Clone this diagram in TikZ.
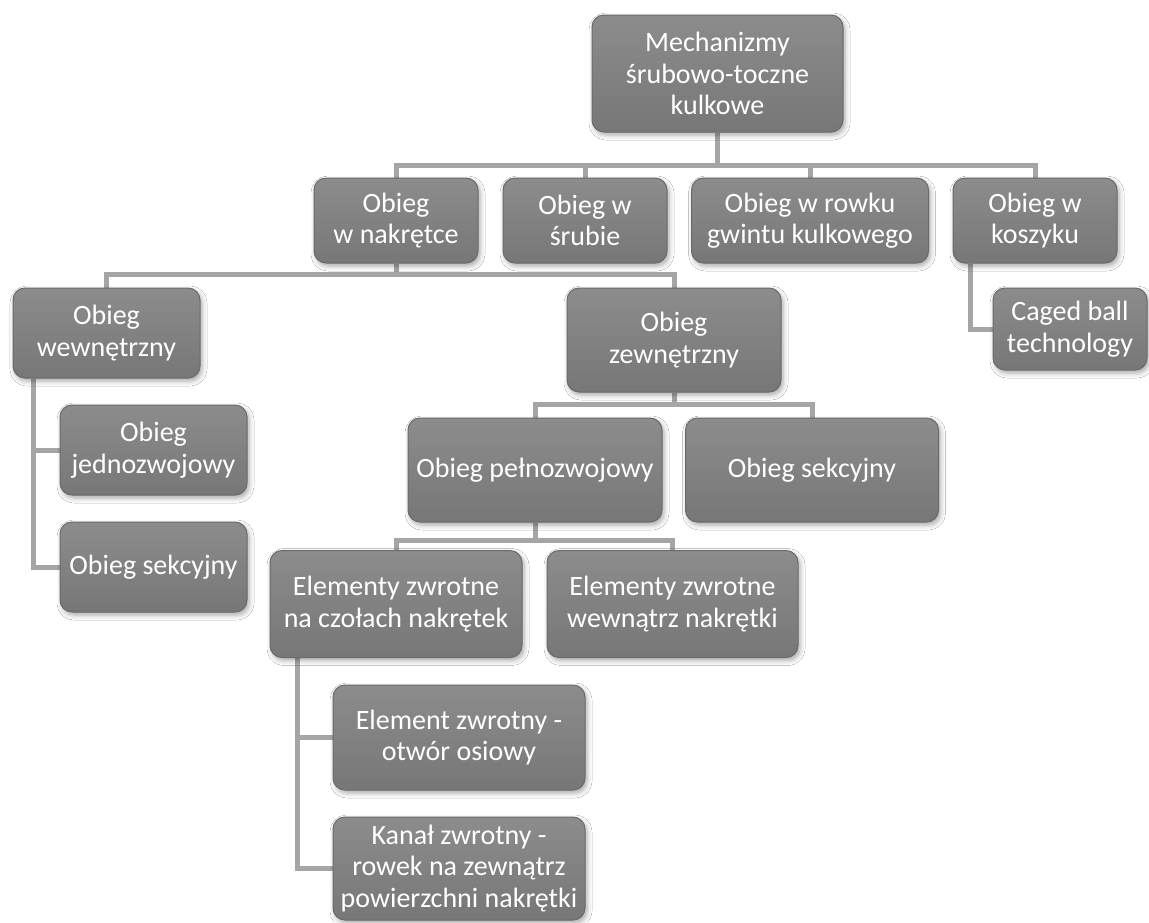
\documentclass[tikz,border=0pt]{standalone}
\usepackage{fontspec}
\setmainfont{Carlito}
\usetikzlibrary{shadows.blur,backgrounds}
\definecolor{boxtop}{HTML}{8C8C8C}
\definecolor{boxbot}{HTML}{777777}
\definecolor{boxline}{HTML}{6A6A6A}
\definecolor{connc}{HTML}{A5A5A5}
\tikzset{
  box/.style={draw=boxline, line width=1pt, rounded corners=12pt,
    top color=boxtop, bottom color=boxbot, text=white, align=center,
    inner sep=0pt, font=\fontsize{28}{31.5}\selectfont,
    blur shadow={shadow xshift=2pt, shadow yshift=-3pt, shadow blur radius=5pt, shadow opacity=35}},
  conn/.style={draw=connc, line width=5pt}
}
\begin{document}
\begin{tikzpicture}[x=1pt,y=1pt]
\useasboundingbox (0,0) rectangle (1149,-922);
\node[box, minimum width=251pt, minimum height=117pt] (root) at (717.5,-73.5) {Mechanizmy\\śrubowo-toczne\\kulkowe};
\node[box, minimum width=164pt, minimum height=85pt] (nak) at (396,-220.5) {Obieg\\w nakrętce};
\node[box, minimum width=164pt, minimum height=85pt] (sru) at (585,-220.5) {Obieg w\\śrubie};
\node[box, minimum width=237pt, minimum height=85pt] (row) at (810,-220.5) {Obieg w rowku\\gwintu kulkowego};
\node[box, minimum width=164pt, minimum height=85pt] (kos) at (1035,-220.5) {Obieg w\\koszyku};
\node[box, minimum width=187pt, minimum height=90pt] (wew) at (106.5,-333) {Obieg\\wewnętrzny};
\node[box, minimum width=214pt, minimum height=104pt] (zew) at (674,-340) {Obieg\\zewnętrzny};
\node[box, minimum width=154pt, minimum height=82pt] (cag) at (1070,-329) {Caged ball\\technology};
\node[box, minimum width=187pt, minimum height=90pt] (jed) at (153.5,-450) {Obieg\\jednozwojowy};
\node[box, minimum width=187pt, minimum height=90pt] (sekL) at (153.5,-567) {Obieg sekcyjny};
\node[box, minimum width=254pt, minimum height=104pt] (pel) at (535,-470) {Obieg pełnozwojowy};
\node[box, minimum width=253pt, minimum height=104pt] (sekR) at (812,-470) {Obieg sekcyjny};
\node[box, minimum width=252pt, minimum height=107pt] (ecz) at (396,-604) {Elementy zwrotne\\na czołach nakrętek};
\node[box, minimum width=251pt, minimum height=107pt] (ewn) at (672.5,-604) {Elementy zwrotne\\wewnątrz nakrętki};
\node[box, minimum width=252pt, minimum height=105pt] (eot) at (459,-737.5) {Element zwrotny -\\otwór osiowy};
\node[box, minimum width=252pt, minimum height=103pt] (kan) at (459,-868.5) {Kanał zwrotny -\\rowek na zewnątrz\\powierzchni nakrętki};
\coordinate (b1) at (0,-165);
\coordinate (b2) at (0,-274);
\coordinate (b3) at (0,-404);
\coordinate (b4) at (0,-540);
\begin{scope}[on background layer]
\fill[white] (0,0) rectangle (1149,-922);
\draw[conn] (root.south) -- (root.south |- b1);
\draw[conn] (nak.north) -- (nak.north |- b1) -- (kos.north |- b1) -- (kos.north);
\draw[conn] (sru.north) -- (sru.north |- b1);
\draw[conn] (row.north) -- (row.north |- b1);
\draw[conn] (nak.south) -- (nak.south |- b2);
\draw[conn] (wew.north) -- (wew.north |- b2) -- (zew.north |- b2) -- (zew.north);
\draw[conn] ([xshift=-65pt]kos.south) |- (cag.west);
\draw[conn] ([xshift=-73.5pt]wew.south) |- (jed.west);
\draw[conn] ([xshift=-73.5pt]wew.south) |- (sekL.west);
\draw[conn] (zew.south) -- (zew.south |- b3);
\draw[conn] (pel.north) -- (pel.north |- b3) -- (sekR.north |- b3) -- (sekR.north);
\draw[conn] (pel.south) -- (pel.south |- b4);
\draw[conn] (ecz.north) -- (ecz.north |- b4) -- (ewn.north |- b4) -- (ewn.north);
\draw[conn] ([xshift=-99pt]ecz.south) |- (eot.west);
\draw[conn] ([xshift=-99pt]ecz.south) |- (kan.west);
\end{scope}
\end{tikzpicture}
\end{document}
